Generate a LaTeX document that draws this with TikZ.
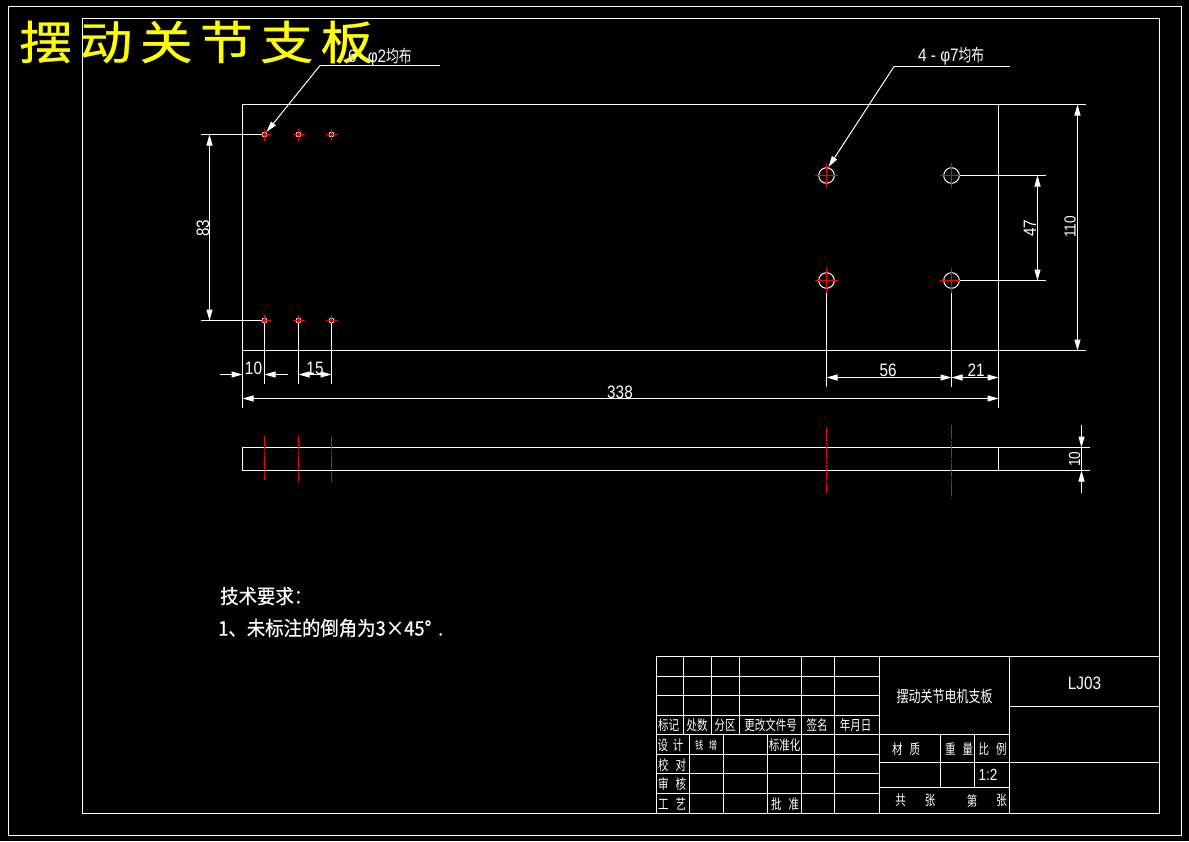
\documentclass[tikz,border=0pt]{standalone}
\usepackage{fontspec}
\usetikzlibrary{arrows.meta}
\newfontfamily\cadfont[FakeStretch=0.85]{Liberation Sans}
\newfontfamily\cadcjk[FakeStretch=0.75]{Noto Sans CJK SC}
\newfontfamily\notecjk[FakeStretch=0.92,FakeBold=0.4]{Noto Sans CJK SC}
\newfontfamily\titlecjk[FakeStretch=1.15,LetterSpace=16,FakeBold=0.8]{Noto Sans CJK SC}
\definecolor{cadred}{RGB}{255,0,0}
\definecolor{cadyellow}{RGB}{255,255,0}

\begin{document}
\begin{tikzpicture}[x=1pt,y=-1pt,>={Triangle[length=11pt,width=6pt]},
    every node/.style={inner sep=0pt,text=white},
    cadline/.style={draw=white,line width=1pt},
    centre/.style={draw=cadred,line width=1pt},
    axis/.style={draw=cadred,line width=1.2pt,dash pattern=on 14pt off 1.5pt on 2pt off 1.5pt},
    thinaxis/.style={axis,line width=0.8pt},
    dimtext/.style={font=\cadfont\fontsize{18}{18}\selectfont},
    smalltext/.style={font=\cadfont\fontsize{16}{16}\selectfont},
    cell/.style={font=\cadcjk\fontsize{14}{14}\selectfont},
    bigcell/.style={font=\cadcjk\fontsize{16}{16}\selectfont},
    note/.style={font=\notecjk\fontsize{20}{20}\selectfont,anchor=west}]
    \useasboundingbox (0,0) rectangle (1189,841);
    \fill[black] (0,0) rectangle (1189,841);

    % frames
    \draw[cadline] (8.5,6.5) rectangle (1181.5,835.5);
    \draw[cadline] (82.5,18.5) rectangle (1159.5,813.5);

    % front view
    \draw[cadline] (1086,104.5) -- (242.5,104.5) -- (242.5,407.5);
    \draw[cadline] (242.5,350.5) -- (1086,350.5);
    \draw[cadline] (998.5,104.5) -- (998.5,407.5);

    % small holes
    \foreach \x in {264.5,298.5,331.5} {
        \foreach \y in {134.5,320.5} {
            \draw[cadline,line width=0.7pt] (\x,\y) circle (2.5);
            \draw[centre] (\x-6,\y) -- (\x+6,\y) (\x,\y-6) -- (\x,\y+6);
        }
        \draw[cadline] (\x,323) -- (\x,383.5);
    }

    % big holes
    \foreach \x in {826.5,951.5} {
        \foreach \y in {175.5,280.5} {
            \draw[cadline] (\x,\y) circle (7.8);
            \draw[centre] (\x-11.5,\y) -- (\x+11.5,\y) (\x,\y-12.5) -- (\x,\y+12.5);
        }
        \draw[cadline] (\x,293) -- (\x,386.5);
    }

    % extension lines
    \draw[cadline] (201,134.5) -- (262,134.5);
    \draw[cadline] (201,320.5) -- (262,320.5);
    \draw[cadline] (959.5,175.5) -- (1046,175.5);
    \draw[cadline] (959.5,280.5) -- (1046,280.5);

    % dimensions
    \draw[cadline,<->] (209.5,134.5) -- (209.5,320.5);
    \draw[cadline,<->] (1037.5,175.5) -- (1037.5,280.5);
    \draw[cadline,<->] (1077.5,104.5) -- (1077.5,350.5);
    \draw[cadline,<->] (298.5,374.5) -- (331.5,374.5);
    \draw[cadline,<->] (826.5,377.5) -- (951.5,377.5);
    \draw[cadline,<->] (951.5,377.5) -- (998.5,377.5);
    \draw[cadline,<->] (242.5,398.5) -- (998.5,398.5);
    \draw[cadline,->] (220,374.5) -- (242.5,374.5);
    \draw[cadline,->] (287.7,374.5) -- (264.5,374.5);

    \node[dimtext,rotate=90] (d83) at (203,228) {83};
    \node[dimtext,rotate=90] (d47) at (1030,228) {47};
    \node[smalltext,rotate=90] (d110) at (1070,227) {110};
    \node[dimtext] (d10) at (253.5,368) {10};
    \node[dimtext] (d15) at (315,368) {15};
    \node[dimtext] (d56) at (888,370.5) {56};
    \node[dimtext] (d21) at (976,370.5) {21};
    \node[dimtext] (d338) at (620,392) {338};

    % leaders
    \draw[cadline] (440,65.5) -- (320,65.5);
    \draw[cadline,->] (320,65.5) -- (266.5,132);
    \draw[cadline] (1010,66.5) -- (894,66.5);
    \draw[cadline,->] (894,66.5) -- (828.5,167);
    \node[anchor=west] (hole4) at (918,56) {{\cadfont\fontsize{18}{18}\selectfont 4 - φ7}{\cadcjk\fontsize{17}{17}\selectfont 均布}};

    % side view
    \draw[cadline] (1090,447.5) -- (242.5,447.5) -- (242.5,470.5) -- (1090,470.5);
    \draw[cadline] (998.5,447.5) -- (998.5,470.5);
    \draw[axis] (264.5,436) -- (264.5,480);
    \draw[axis] (298.5,436) -- (298.5,482);
    \draw[thinaxis] (331.5,436) -- (331.5,482);
    \draw[axis] (826.5,427) -- (826.5,493);
    \draw[thinaxis] (951.5,425) -- (951.5,499);
    \draw[cadline,->] (1081.5,425) -- (1081.5,447.5);
    \draw[cadline,->] (1081.5,492.7) -- (1081.5,470.5);
    \draw[cadline] (1081.5,447.5) -- (1081.5,470.5);
    \node[smalltext,rotate=90] (thick) at (1074.5,459) {10};

    % notes
    \node[note] (req) at (220,596) {技术要求：};
    \node[note] (req1) at (218,628) {1、未标注的倒角为3×45°\,\,.};

    % title block
    \draw[cadline] (656.5,656.5) rectangle (1159.5,813.5);
    \foreach \y in {676.5,695.5,715.5,734.5,754.5,773.5,793.5} {
        \draw[cadline] (656.5,\y) -- (879.5,\y);
    }
    \foreach \x in {683.5,711.5,739.5} {
        \draw[cadline] (\x,656.5) -- (\x,734.5);
    }
    \foreach \x in {801.5,834.5} {
        \draw[cadline] (\x,656.5) -- (\x,813.5);
    }
    \foreach \x in {689.5,723.5,767.5} {
        \draw[cadline] (\x,734.5) -- (\x,813.5);
    }
    \draw[cadline] (879.5,656.5) -- (879.5,813.5);
    \draw[cadline] (1009.5,656.5) -- (1009.5,813.5);
    \draw[cadline] (1009.5,706.5) -- (1159.5,706.5);
    \draw[cadline] (879.5,734.5) -- (1009.5,734.5);
    \draw[cadline] (879.5,762.5) -- (1159.5,762.5);
    \draw[cadline] (879.5,787.5) -- (1009.5,787.5);
    \draw[cadline] (940.5,734.5) -- (940.5,787.5);
    \draw[cadline] (974.5,734.5) -- (974.5,787.5);

    \node[cell] (mark) at (668.5,725) {标记};
    \node[cell] (count) at (697,725) {处数};
    \node[cell] (zone) at (725,725) {分区};
    \node[cell] (change) at (770.5,725) {更改文件号};
    \node[cell] (sign) at (817,725) {签名};
    \node[cell] (date) at (855.5,725) {年月日};
    \node[cell] (design) at (670.5,745) {设\,\,计};
    \node[font=\cadcjk\fontsize{11}{11}\selectfont] (who) at (706,745) {钱\,\,\,增};
    \node[cell] (std) at (784.5,745) {标准化};
    \node[cell] (check) at (672,765) {校\,\,\,对};
    \node[cell] (audit) at (672,784) {审\,\,\,核};
    \node[cell] (craft) at (672,804) {工\,\,\,艺};
    \node[cell] (appr) at (785,804) {批\,\,\,准};

    \node[bigcell] (name) at (944.7,696) {摆动关节电机支板};
    \node[dimtext] (code) at (1084.5,683) {LJ03};
    \node[cell] (mat) at (906,749) {材\,\,\,质};
    \node[cell] (weight) at (959,749) {重\,\,\,量};
    \node[cell] (ratio) at (992.5,749) {比\,\,\,例};
    \node[smalltext] (scale) at (988,775) {1:2};
    \node[cell] (tot) at (900.7,800.7) {共};
    \node[cell] (sheet) at (930,800.7) {张};
    \node[cell] (nth) at (972,800.7) {第};
    \node[cell] (sheetb) at (1001.7,800.7) {张};

    % big title
    \node[anchor=west,text=cadyellow,font=\titlecjk\fontsize{46}{46}\selectfont] (title) at (19,42) {摆动关节支板};
    \node[anchor=west] (hole6) at (348,57) {{\cadfont\fontsize{18}{18}\selectfont 6\,-\,φ2}{\cadcjk\fontsize{17}{17}\selectfont 均布}};
\end{tikzpicture}
\end{document}
